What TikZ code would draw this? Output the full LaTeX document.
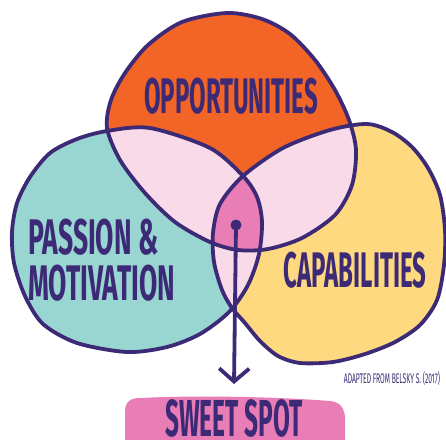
\documentclass[tikz,border=0pt]{standalone}
\usepackage{fontspec}
\usepackage{xcolor}
\usepackage{tikz}
\usetikzlibrary{arrows.meta}
\definecolor{VennOrange}{HTML}{F26526}
\definecolor{VennTeal}{HTML}{99D6D1}
\definecolor{VennYellow}{HTML}{FED97F}
\definecolor{VennPale}{HTML}{F8DAE9}
\definecolor{VennPink}{HTML}{E97DB5}
\definecolor{VennPurple}{HTML}{3D2A76}
\newfontfamily\handfont[FakeStretch=0.48]{Fira Sans}
\newfontfamily\handfontwide[FakeStretch=0.53]{Fira Sans}
\newfontfamily\handfontnarrow[FakeStretch=0.47]{Fira Sans}

\newcommand{\blobOpp}{plot[smooth cycle] coordinates {
  (107,128) (111,100) (125,73) (148,45) (182,22) (227,13) (262,19)
  (290,34) (315,60) (335,90) (349,120) (356,150) (352,185) (335,215)
  (302,238) (268,249) (238,250) (210,242) (175,222) (145,193) (120,160)}}
\newcommand{\blobPassion}{plot[smooth cycle] coordinates {
  (150,128) (107,131) (77,139) (50,153) (30,177) (17,203) (12,232)
  (14,263) (25,296) (43,324) (77,343) (127,352) (167,347) (200,334)
  (229,312) (248,285) (259,254) (262,222) (257,197) (243,176) (210,148)}}
\newcommand{\blobCap}{plot[smooth cycle] coordinates {
  (367,124) (392,132) (412,147) (428,168) (440,195) (445,230) (444,265)
  (437,300) (420,325) (395,342) (365,354) (333,362) (300,363) (278,356)
  (260,341) (245,323) (232,308) (222,290) (214,262) (213,233) (220,204)
  (243,176) (283,148) (330,130)}}

\begin{document}
\begin{tikzpicture}[x=1pt, y=-1pt,
    outline/.style={draw=VennPurple, line width=3.8pt, line join=round},
    venntext/.style={text=VennPurple, inner sep=0pt,
                     font=\handfont\bfseries\fontsize{50}{46}\selectfont},
    pointer/.style={-{Straight Barb[length=13pt, width=30pt]}, VennPurple,
                    line width=3.8pt, line cap=round}]
  \useasboundingbox (0,0) rectangle (446,439);
  \clip (0,0) rectangle (446,439);

  \fill[VennOrange] \blobOpp;
  \fill[VennTeal] \blobPassion;
  \fill[VennYellow] \blobCap;
  \begin{scope}
    \clip \blobOpp;
    \fill[VennPale] \blobPassion;
    \fill[VennPale] \blobCap;
  \end{scope}
  \begin{scope}
    \clip \blobPassion;
    \fill[VennPale] \blobCap;
  \end{scope}
  \begin{scope}
    \clip \blobOpp;
    \clip \blobPassion;
    \fill[VennPink] \blobCap;
  \end{scope}
  \draw[outline] \blobOpp;
  \draw[outline] \blobPassion;
  \draw[outline] \blobCap;

  \node[venntext] (opp) at (231,96) {OPPORTUNITIES};
  \node[venntext, anchor=west, align=left,
        font=\handfontwide\bfseries\fontsize{50}{46}\selectfont] (passion)
    at (28,260) {PASSION \&\\MOTIVATION};
  \node[venntext] (cap) at (355,270) {CAPABILITIES};
  \node[venntext, font=\handfont\fontsize{14}{14}\selectfont] (source)
    at (392,379) {ADAPTED FROM BELSKY S. (2017)};

  \fill[VennPink] (140,398) .. controls (200,395) and (280,397) .. (330,401)
    .. controls (343,402) and (346,412) .. (345,425) -- (345,445)
    -- (125,445) -- (125,412) .. controls (125,402) and (130,398) .. (140,398)
    -- cycle;
  \node[venntext, anchor=north, font=\handfontnarrow\bfseries\fontsize{52}{52}\selectfont]
    (sweet) at (234,399) {SWEET SPOT};

  \coordinate (dot) at (236,225);
  \fill[VennPurple] (dot) circle (5.5pt);
  \draw[pointer] (dot) -- ([yshift=15pt]sweet.north);
\end{tikzpicture}
\end{document}
